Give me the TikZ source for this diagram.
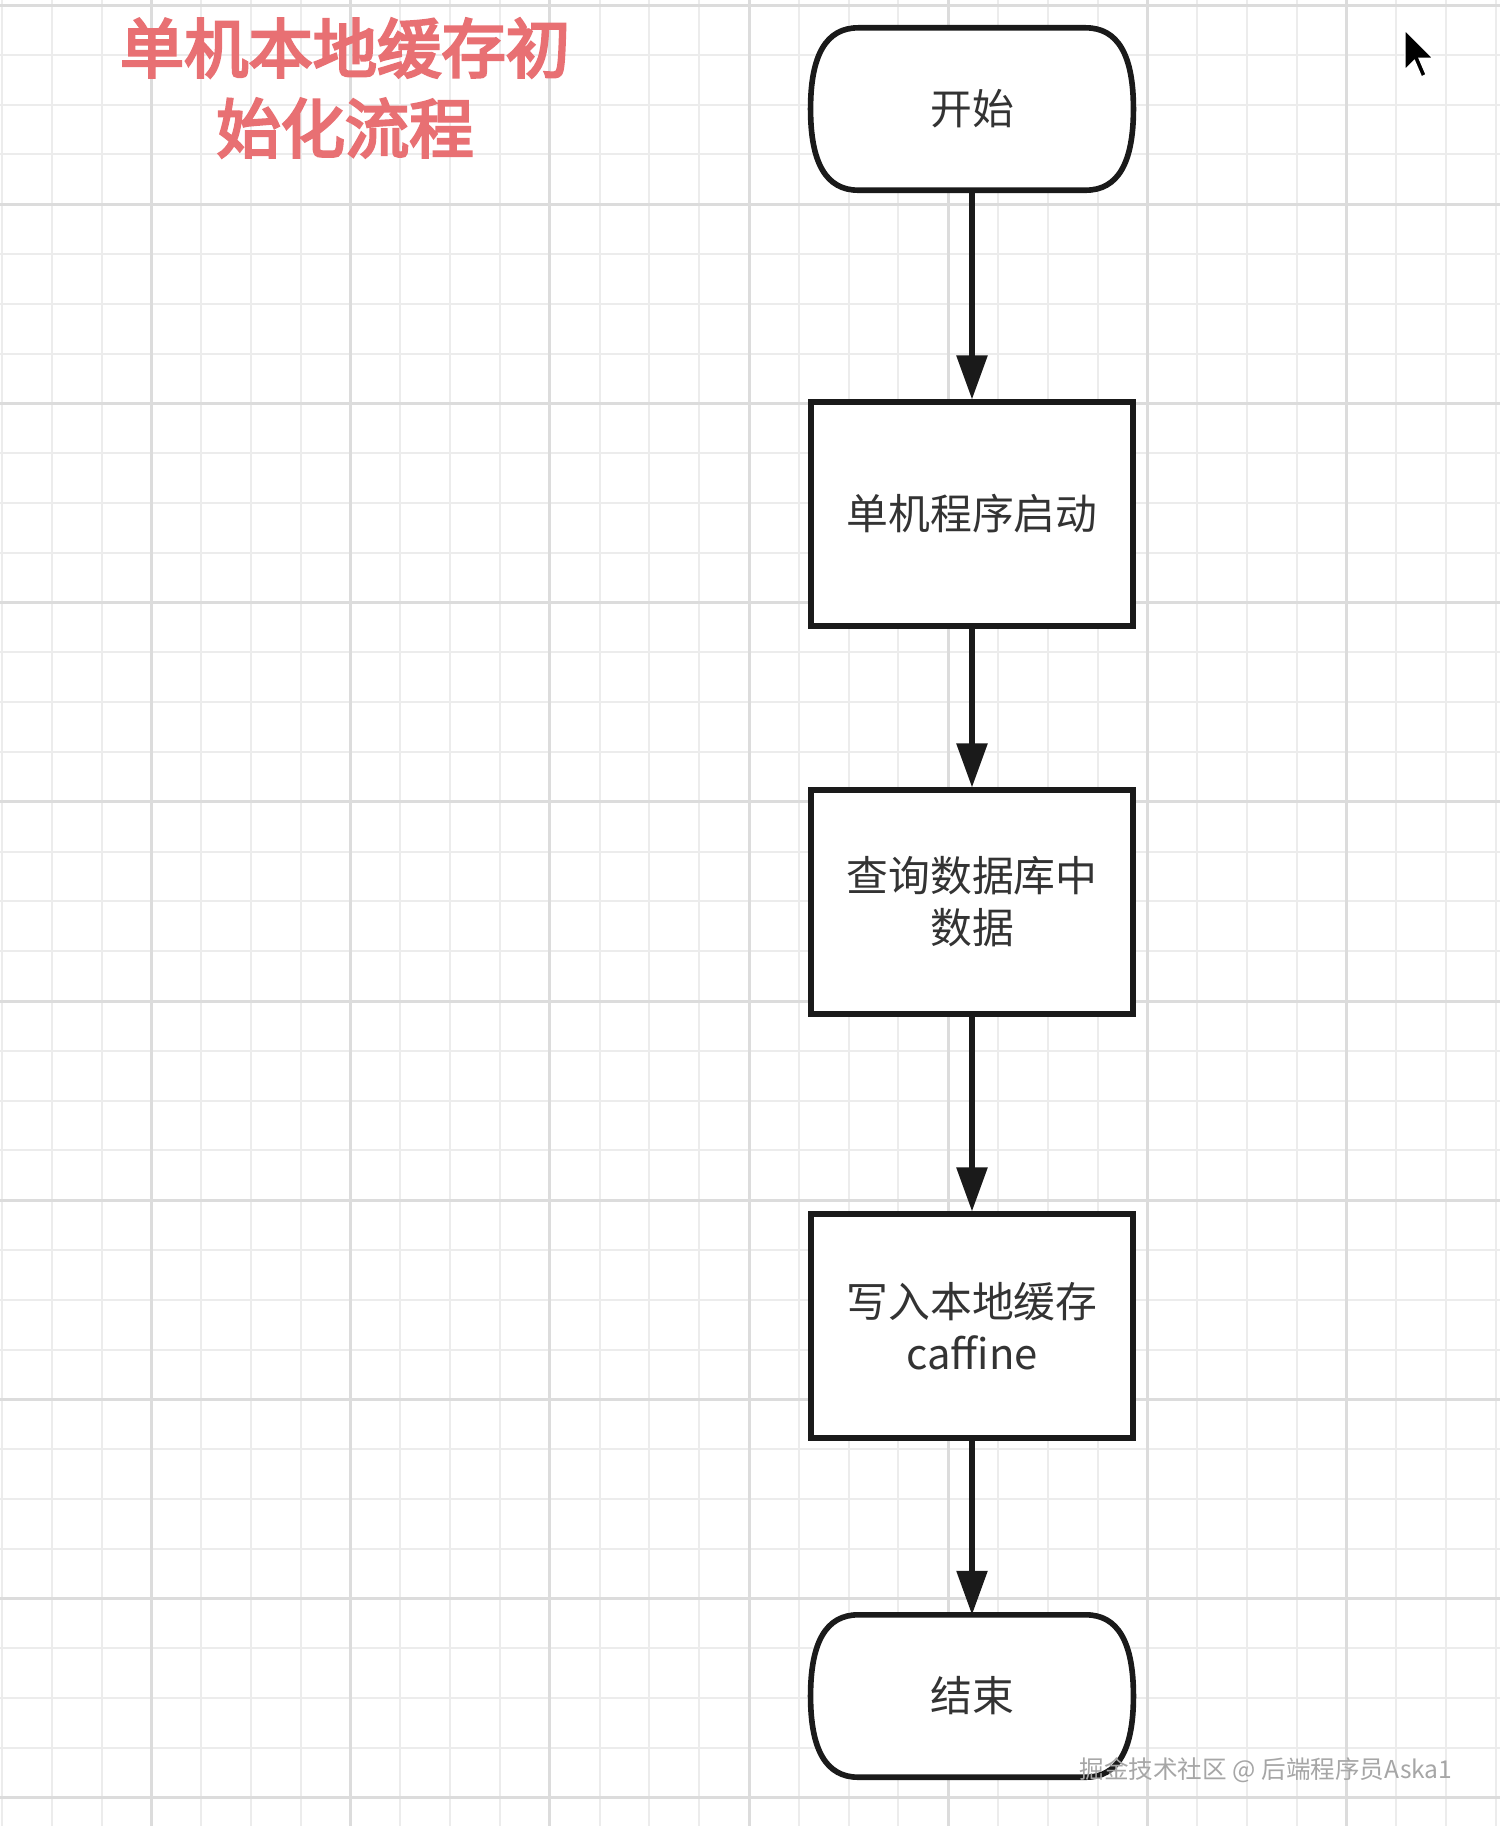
\documentclass[tikz,border=0pt]{standalone}
\usepackage{fontspec}
\setmainfont{Noto Sans CJK SC}
\newfontfamily\titlefont{Noto Sans CJK SC}[FakeBold=4]
\usetikzlibrary{arrows.meta,calc}
\tikzset{flowtip/.tip={Triangle[width=3mm,length=4.4mm]}}
\newcommand{\FlowArrowType}{flowtip}
\definecolor{titlered}{RGB}{232,112,115}
\definecolor{textgray}{RGB}{51,51,51}
\definecolor{linedark}{RGB}{26,26,26}
\definecolor{gridminor}{RGB}{236,236,236}
\definecolor{gridmajor}{RGB}{220,220,220}
\pgfdeclarelayer{gridlayer}
\pgfdeclarelayer{shapelayer}
\pgfsetlayers{gridlayer,shapelayer,main}

\begin{document}
\begin{tikzpicture}[>=\FlowArrowType,
	flowline/.style={draw=linedark,line width=1.6pt},
	boxtext/.style={text=textgray,align=center,font=\fontsize{11.9pt}{14.8pt}\selectfont},
	stepbox/.style={flowline,boxtext,fill=white,minimum width=3.215cm,minimum height=2.235cm},
	terminal/.style={boxtext,minimum width=3.215cm,minimum height=1.61cm},
	titletext/.style={text=titlered,align=center,font=\titlefont\fontsize{18.3pt}{22.8pt}\selectfont}]
		\useasboundingbox (0,0) rectangle (15,-18.26);
		% grid paper
		\begin{pgfonlayer}{gridlayer}
				\fill[white] (0,0) rectangle (15,-18.26);
				\foreach \k in {0,...,30} \draw[gridminor,line width=0.02cm] ({0.02+\k*0.498},0) -- ++(0,-18.26);
				\foreach \k in {0,...,36} \draw[gridminor,line width=0.02cm] (0,{-0.05-\k*0.498}) -- ++(15,0);
				\foreach \k in {3,7,...,27} \draw[gridmajor,line width=0.03cm] ({0.02+\k*0.498},0) -- ++(0,-18.26);
				\foreach \k in {0,4,...,36} \draw[gridmajor,line width=0.03cm] (0,{-0.05-\k*0.498}) -- ++(15,0);
		\end{pgfonlayer}
		% title
		\node[titletext] (title) at (3.45,-0.88) {单机本地缓存初\\始化流程};
		% flow
		\node[terminal] (start) at (9.72,-1.09) {开始};
		\node[stepbox] (launch) at (9.72,-5.14) {单机程序启动};
		\node[stepbox] (query) at (9.72,-9.02) {查询数据库中\\数据};
		\node[stepbox] (cache) at (9.72,-13.26) {写入本地缓存\\caffine};
		\node[terminal] (stop) at (9.72,-16.96) {结束};
		\begin{pgfonlayer}{shapelayer}
				\foreach \n in {start,stop}
						\draw[flowline,fill=white] ($(\n.north)+(-1.137,0)$) -- ($(\n.north)+(1.137,0)$)
								.. controls ($(\n.north east)+(-0.157,0)$) and ($(\n.north east)+(0,-0.27)$) .. (\n.east)
								.. controls ($(\n.south east)+(0,0.27)$) and ($(\n.south east)+(-0.157,0)$) .. ($(\n.south)+(1.137,0)$)
								-- ($(\n.south)+(-1.137,0)$)
								.. controls ($(\n.south west)+(0.157,0)$) and ($(\n.south west)+(0,0.27)$) .. (\n.west)
								.. controls ($(\n.north west)+(0,-0.27)$) and ($(\n.north west)+(0.157,0)$) .. cycle;
		\end{pgfonlayer}
		\foreach \a/\b in {start/launch,launch/query,query/cache,cache/stop}
				\draw[->,flowline] (\a) -- (\b);
		% watermark and pointer
		\node[text=black!35,font=\fontsize{7pt}{8pt}\selectfont] (mark) at (12.66,-17.70) {掘金技术社区 @ 后端程序员Aska1};
		\fill[black,draw=white,line width=0.4pt,shift={(14.05,-0.30)},x=0.0235cm,y=0.0235cm]
				(0,0) -- (0,-17) -- (4,-13) -- (7,-20) -- (9,-19) -- (6,-12) -- (12,-12) -- cycle;
\end{tikzpicture}
\end{document}
